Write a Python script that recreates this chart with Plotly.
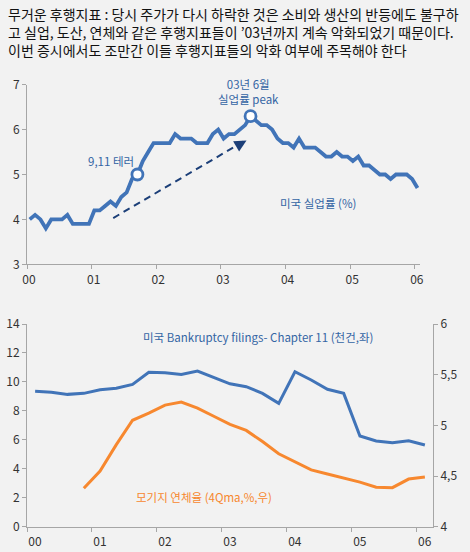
import plotly.graph_objects as go

W, H = 470, 552

# ---------------- data ----------------
years = ["00", "01", "02", "03", "04", "05", "06"]
year_vals = [2000, 2001, 2002, 2003, 2004, 2005, 2006]

# US unemployment rate, monthly Jan 2000 .. Jan 2006
unemp = [
    4.0, 4.1, 4.0, 3.8, 4.0, 4.0, 4.0, 4.1, 3.9, 3.9, 3.9, 3.9,
    4.2, 4.2, 4.3, 4.4, 4.3, 4.5, 4.6, 4.9, 5.0, 5.3, 5.5, 5.7,
    5.7, 5.7, 5.7, 5.9, 5.8, 5.8, 5.8, 5.7, 5.7, 5.7, 5.9, 6.0,
    5.8, 5.9, 5.9, 6.0, 6.1, 6.3, 6.2, 6.1, 6.1, 6.0, 5.8, 5.7,
    5.7, 5.6, 5.8, 5.6, 5.6, 5.6, 5.5, 5.4, 5.4, 5.5, 5.4, 5.4,
    5.3, 5.4, 5.2, 5.2, 5.1, 5.0, 5.0, 4.9, 5.0, 5.0, 5.0, 4.9,
    4.7,
]
unemp_x = [2000 + (i + 0.5) / 12 for i in range(len(unemp))]
marker_idx = [20, 41]  # Sep 2001, Jun 2003

# Chapter 11 bankruptcy filings (thousand, left) quarterly Q1 2000 .. Q1 2006
bankr = [
    9.35, 9.28, 9.14, 9.21,
    9.46, 9.56, 9.83, 10.66,
    10.64, 10.52, 10.75, 10.32,
    9.87, 9.67, 9.21, 8.52,
    10.70, 10.13, 9.49, 9.21,
    6.26, 5.92, 5.80, 5.94,
    5.64,
]
# Mortgage delinquency rate (4Q m.a., %, right)
mort = [
    None, None, None, 4.38,
    4.55, 4.81, 5.05, 5.12,
    5.20, 5.23, 5.17, 5.09,
    5.01, 4.95, 4.84, 4.72,
    4.64, 4.56, 4.52, 4.48,
    4.44, 4.39, 4.385, 4.47,
    4.49,
]
q_x = [2000 + (q + 0.5) / 4 for q in range(len(bankr))]

right_ticks = [4, 4.5, 5, 5.5, 6]
right_labels = ["4", "4,5", "5", "5,5", "6"]

# ---------------- style ----------------
BG = "#f2f2f2"
BLUE = "#4174b8"
BLUE_TXT = "#3465a4"
ORANGE = "#f7882f"
NAVY = "#1c3f78"
AX = "#a6a6a6"
TXT = "#333333"
FONT = "Noto Sans CJK KR"


def px_x(p):
    return p / W


def px_y(p):
    return 1 - p / H


fig = go.Figure()

fig.add_trace(go.Scatter(x=unemp_x, y=unemp, mode="lines",
                         line=dict(color=BLUE, width=3.8),
                         xaxis="x", yaxis="y", showlegend=False))
fig.add_trace(go.Scatter(x=[unemp_x[i] for i in marker_idx],
                         y=[unemp[i] for i in marker_idx], mode="markers",
                         marker=dict(size=11, color="white",
                                     line=dict(color=BLUE, width=2.8)),
                         xaxis="x", yaxis="y", showlegend=False))
# dashed trend arrow shaft
fig.add_trace(go.Scatter(x=[2001.334, 2003.35], y=[4.03, 5.735], mode="lines",
                         line=dict(color=NAVY, width=2, dash="7px,5px"),
                         xaxis="x", yaxis="y", showlegend=False))

fig.add_trace(go.Scatter(x=q_x, y=bankr, mode="lines",
                         line=dict(color=BLUE, width=3),
                         xaxis="x2", yaxis="y2", showlegend=False))
fig.add_trace(go.Scatter(x=q_x, y=mort, mode="lines",
                         line=dict(color=ORANGE, width=3),
                         xaxis="x2", yaxis="y3", showlegend=False))

axis_common = dict(showgrid=False, zeroline=False, showline=True, automargin=False,
                   linecolor=AX, linewidth=1, ticks="outside", ticklen=4,
                   tickcolor=AX, tickfont=dict(family=FONT, size=12, color=TXT))

fig.update_layout(
    width=W, height=H, autosize=False,
    margin=dict(l=0, r=0, t=0, b=0, autoexpand=False),
    paper_bgcolor=BG, plot_bgcolor=BG,
    font=dict(family=FONT),
    xaxis=dict(domain=[px_x(27), px_x(420)], anchor="y", range=[2000, 2006.08],
               tickvals=year_vals, ticktext=years, ticklabelshift=2, **axis_common),
    yaxis=dict(domain=[px_y(264.3), px_y(84.7)], anchor="x", range=[3, 7],
               dtick=1, **axis_common),
    xaxis2=dict(domain=[px_x(27), px_x(433)], anchor="y2", range=[2000, 2006.25],
                tickvals=year_vals, ticktext=years, ticklabelshift=8, **axis_common),
    yaxis2=dict(domain=[px_y(526.7), px_y(324)], anchor="x2", range=[0, 14],
                dtick=2, **axis_common),
    yaxis3=dict(overlaying="y2", anchor="x2", side="right", range=[4, 6],
                tickvals=right_ticks, ticktext=right_labels, **axis_common),
)

title_text = ("무거운 후행지표 : 당시 주가가 다시 하락한 것은 소비와 생산의 반등에도 불구하<br>"
              "고 실업, 도산, 연체와 같은 후행지표들이 ’03년까지 계속 악화되었기 때문이다.<br>"
              "이번 증시에서도 조만간 이들 후행지표들의 악화 여부에 주목해야 한다")
anns = [dict(text=title_text, xref="paper", yref="paper", x=px_x(6), y=px_y(31.7),
             xanchor="left", yanchor="middle", align="left", showarrow=False,
             font=dict(family=FONT, size=14, color="#111111"))]

# arrowhead of the dashed trend arrow
anns.append(dict(x=2003.396, y=5.76, xref="x", yref="y", showarrow=True,
                 ax=-8, ay=4.6, arrowhead=2, arrowsize=1.2, arrowwidth=2,
                 arrowcolor=NAVY, text=""))

lab_font = dict(family=FONT, size=11.5, color=BLUE_TXT)
anns += [
    dict(text="9,11 테러", xref="paper", yref="paper", x=px_x(111), y=px_y(161),
         showarrow=False, font=lab_font, xanchor="center", yanchor="middle"),
    dict(text="03년 6월<br>실업률 peak", xref="paper", yref="paper",
         x=px_x(248), y=px_y(91.7), showarrow=False, font=lab_font,
         xanchor="center", yanchor="middle", align="center"),
    dict(text="미국 실업률 (%)", xref="paper", yref="paper", x=px_x(318), y=px_y(203),
         showarrow=False, font=lab_font, xanchor="center", yanchor="middle"),
    dict(text="미국 Bankruptcy filings- Chapter 11 (천건,좌)", xref="paper", yref="paper",
         x=px_x(258), y=px_y(336.7), showarrow=False, font=lab_font,
         xanchor="center", yanchor="middle"),
    dict(text="모기지 연체율 (4Qma,%,우)", xref="paper", yref="paper",
         x=px_x(204), y=px_y(496.7), showarrow=False,
         font=dict(family=FONT, size=11.5, color=ORANGE),
         xanchor="center", yanchor="middle"),
]
fig.update_layout(annotations=anns)

fig.write_html("out.html",
               config={"displayModeBar": False},
               post_script="document.body.style.margin='0';"
                           "document.body.style.overflow='hidden';")
